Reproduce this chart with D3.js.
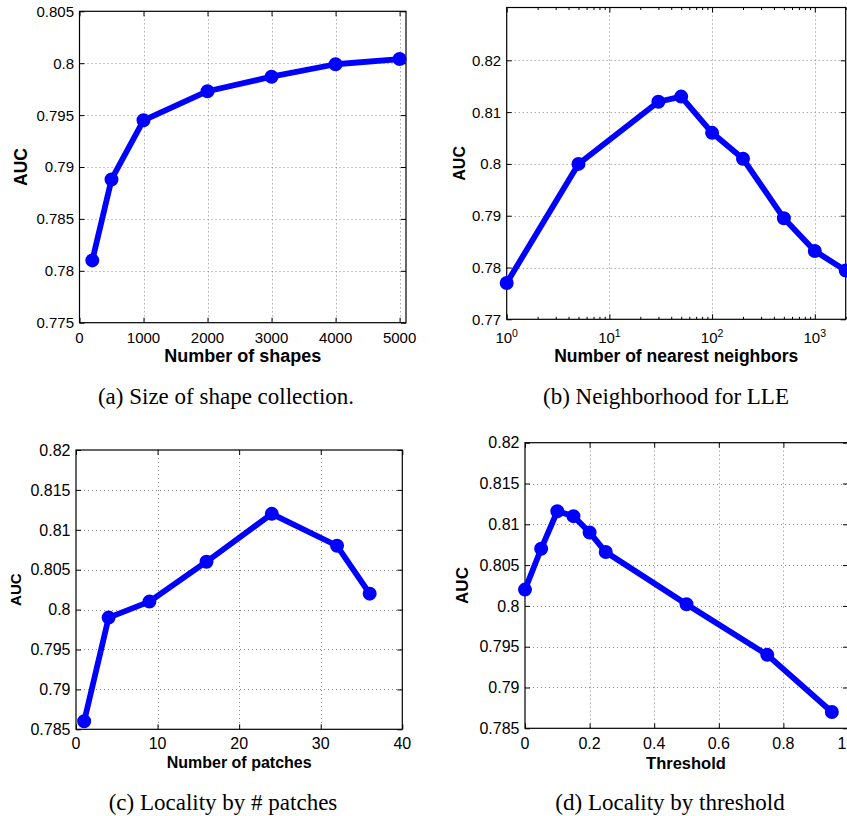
<!DOCTYPE html>
<html>
<head>
<meta charset="utf-8">
<script src="https://cdn.jsdelivr.net/npm/d3@7"></script>
<style>
  html, body { margin: 0; padding: 0; background: #fff; }
  svg { display: block; }
</style>
</head>
<body>
<svg id="chart" width="847" height="816"></svg>
<script>
// ---------------- DATA ----------------
const shapesX = [200, 500, 1000, 2000, 3000, 4000, 5000];
const shapesAUC = [0.781, 0.7888, 0.7945, 0.7973, 0.7987, 0.7999, 0.8004];
const shapesXTicks = [0, 1000, 2000, 3000, 4000, 5000];
const shapesYTicks = [0.775, 0.78, 0.785, 0.79, 0.795, 0.8, 0.805];

const neighborsX = [1, 5, 30, 50, 100, 200, 500, 1000, 2000];
const neighborsAUC = [0.777, 0.800, 0.812, 0.813, 0.806, 0.801, 0.7895, 0.7832, 0.7794];
const neighborsXTicks = [1, 10, 100, 1000];
const neighborsXMinor = [2,3,4,5,6,7,8,9,20,30,40,50,60,70,80,90,200,300,400,500,600,700,800,900,2000];
const neighborsYTicks = [0.77, 0.78, 0.79, 0.80, 0.81, 0.82];

const patchesX = [1, 4, 9, 16, 24, 32, 36];
const patchesAUC = [0.786, 0.799, 0.801, 0.806, 0.812, 0.808, 0.802];
const patchesXTicks = [0, 10, 20, 30, 40];
const patchesYTicks = [0.785, 0.79, 0.795, 0.8, 0.805, 0.81, 0.815, 0.82];

const thresholdX = [0, 0.05, 0.1, 0.15, 0.2, 0.25, 0.5, 0.75, 0.95];
const thresholdAUC = [0.802, 0.807, 0.8116, 0.811, 0.809, 0.8066, 0.8002, 0.794, 0.787];
const thresholdXTicks = [0, 0.2, 0.4, 0.6, 0.8, 1];
const thresholdYTicks = [0.785, 0.79, 0.795, 0.8, 0.805, 0.81, 0.815, 0.82];

const xLabels = ["Number of shapes", "Number of nearest neighbors", "Number of patches", "Threshold"];
const yLabel = "AUC";
const captions = ["(a) Size of shape collection.", "(b) Neighborhood for LLE", "(c) Locality by # patches", "(d) Locality by threshold"];

// ---------------- LAYOUT ----------------
const panels = [
  { x: shapesX, y: shapesAUC, xTicks: shapesXTicks, yTicks: shapesYTicks, xDomain: [0, 5100], yDomain: [0.775, 0.805],
    left: 79.5, right: 406, top: 11.3, bottom: 322.7, log: false,
    tickFont: 15, labelFont: 18, aucFont: 17.5, xTickBase: 20.5, xLabelBase: 362, aucX: 26.5,
    caption: captions[0], capX: 226, capY: 403.5, xLabel: xLabels[0] },
  { x: neighborsX, y: neighborsAUC, xTicks: neighborsXTicks, yTicks: neighborsYTicks, xDomain: [1, 2000], yDomain: [0.77, 0.8302],
    left: 506.7, right: 845.7, top: 7.5, bottom: 319.3, log: true, minor: neighborsXMinor,
    tickFont: 15, labelFont: 17.5, aucFont: 16, xTickBase: 24, xLabelBase: 361.5, aucX: 464.5,
    caption: captions[1], capX: 666, capY: 403.5, xLabel: xLabels[1] },
  { x: patchesX, y: patchesAUC, xTicks: patchesXTicks, yTicks: patchesYTicks, xDomain: [0, 40], yDomain: [0.785, 0.82],
    left: 76, right: 402.3, top: 450, bottom: 729.3, log: false,
    tickFont: 16, labelFont: 16, aucFont: 15, xTickBase: 19.5, xLabelBase: 768, aucX: 20.7,
    caption: captions[2], capX: 223, capY: 810, xLabel: xLabels[2] },
  { x: thresholdX, y: thresholdAUC, xTicks: thresholdXTicks, yTicks: thresholdYTicks, xDomain: [0, 1], yDomain: [0.785, 0.82],
    left: 525, right: 848, top: 442.7, bottom: 728.3, log: false,
    tickFont: 16, labelFont: 16.5, aucFont: 17, xTickBase: 20.5, xLabelBase: 768.5, aucX: 467.7,
    caption: captions[3], capX: 670, capY: 810, xLabel: xLabels[3] }
];

const W = 847;
const svg = d3.select("#chart");
svg.append("rect").attr("width", W).attr("height", 816).attr("fill", "#fff");

const sans = "'Liberation Sans', Arial, Helvetica, sans-serif";
const serif = "'Liberation Serif', 'Times New Roman', serif";
const fmtY = d => String(+d.toFixed(3));

panels.forEach(p => {
  const xs = (p.log ? d3.scaleLog() : d3.scaleLinear()).domain(p.xDomain).range([p.left, p.right]);
  const ys = d3.scaleLinear().domain(p.yDomain).range([p.bottom, p.top]);
  const g = svg.append("g");

  // grid
  const gridStyle = s => s.attr("stroke", "#8a8a8a").attr("stroke-width", 1).attr("stroke-dasharray", "1,3").attr("fill", "none");
  g.append("g").selectAll("line")
    .data(p.xTicks.filter(t => Math.abs(xs(t) - p.left) > 1 && Math.abs(xs(t) - p.right) > 1))
    .join("line")
    .attr("x1", d => Math.round(xs(d)) + 0.5).attr("x2", d => Math.round(xs(d)) + 0.5)
    .attr("y1", p.top).attr("y2", p.bottom).call(gridStyle);
  g.append("g").selectAll("line")
    .data(p.yTicks.filter(t => Math.abs(ys(t) - p.top) > 1 && Math.abs(ys(t) - p.bottom) > 1))
    .join("line")
    .attr("y1", d => Math.round(ys(d)) + 0.5).attr("y2", d => Math.round(ys(d)) + 0.5)
    .attr("x1", p.left).attr("x2", p.right).call(gridStyle);

  // ticks (inward, all four sides) via d3 axes
  const tickLen = 5;
  g.append("g").attr("transform", `translate(0,${p.bottom})`)
    .call(d3.axisBottom(xs).tickValues(p.xTicks).tickSizeInner(-tickLen).tickSizeOuter(0).tickFormat(""));
  g.append("g").attr("transform", `translate(0,${p.top})`)
    .call(d3.axisTop(xs).tickValues(p.xTicks).tickSizeInner(-tickLen).tickSizeOuter(0).tickFormat(""));
  g.append("g").attr("transform", `translate(${p.left},0)`)
    .call(d3.axisLeft(ys).tickValues(p.yTicks).tickSizeInner(-tickLen).tickSizeOuter(0).tickFormat(""));
  g.append("g").attr("transform", `translate(${p.right},0)`)
    .call(d3.axisRight(ys).tickValues(p.yTicks).tickSizeInner(-tickLen).tickSizeOuter(0).tickFormat(""));
  if (p.log) {
    g.append("g").attr("transform", `translate(0,${p.bottom})`)
      .call(d3.axisBottom(xs).tickValues(p.minor).tickSizeInner(-2.5).tickSizeOuter(0).tickFormat(""));
    g.append("g").attr("transform", `translate(0,${p.top})`)
      .call(d3.axisTop(xs).tickValues(p.minor).tickSizeInner(-2.5).tickSizeOuter(0).tickFormat(""));
  }
  g.selectAll(".domain").remove();
  g.selectAll(".tick line").attr("stroke", "#000").attr("stroke-width", 1);

  // frame
  g.append("rect").attr("x", p.left).attr("y", p.top)
    .attr("width", p.right - p.left).attr("height", p.bottom - p.top)
    .attr("fill", "none").attr("stroke", "#000").attr("stroke-width", 1.2);

  // x tick labels
  const xl = g.append("g").attr("font-family", sans).attr("font-size", p.tickFont).attr("fill", "#000");
  p.xTicks.forEach(t => {
    const px = xs(t);
    const edge = px > W - 6;
    const tx = xl.append("text").attr("x", edge ? W - 0.5 : px).attr("y", p.bottom + p.xTickBase)
      .attr("text-anchor", edge ? "end" : "middle");
    if (p.log) {
      tx.append("tspan").text("10");
      tx.append("tspan").attr("font-size", p.tickFont * 0.7).attr("dy", -6).text(String(Math.round(Math.log10(t))));
    } else {
      tx.text(String(t));
    }
  });
  // y tick labels
  const yl = g.append("g").attr("font-family", sans).attr("font-size", p.tickFont).attr("fill", "#000").attr("text-anchor", "end");
  p.yTicks.forEach(t => {
    yl.append("text").attr("x", p.left - 5.5).attr("y", ys(t)).attr("dy", "0.36em").text(fmtY(t));
  });

  // axis labels
  g.append("text").attr("x", (p.left + Math.min(p.right, W)) / 2).attr("y", p.xLabelBase)
    .attr("font-family", sans).attr("font-weight", "bold").attr("font-size", p.labelFont)
    .attr("text-anchor", "middle").text(p.xLabel);
  g.append("text").attr("transform", `translate(${p.aucX},${(p.top + p.bottom) / 2}) rotate(-90)`)
    .attr("font-family", sans).attr("font-weight", "bold").attr("font-size", p.aucFont)
    .attr("text-anchor", "middle").text(yLabel);

  // series line
  const pts = p.x.map((v, i) => [v, p.y[i]]);
  g.append("path").datum(pts)
    .attr("d", d3.line().x(d => xs(d[0])).y(d => ys(d[1])))
    .attr("fill", "none").attr("stroke", "#0000ff").attr("stroke-width", 5.8)
    .attr("stroke-linejoin", "round").attr("stroke-linecap", "round");
  g.append("g").selectAll("circle").data(pts).join("circle")
    .attr("cx", d => xs(d[0])).attr("cy", d => ys(d[1])).attr("r", 4.5)
    .attr("fill", "#0000ff").attr("stroke", "#0000ff").attr("stroke-width", 5);

  // caption
  svg.append("text").attr("x", p.capX).attr("y", p.capY)
    .attr("font-family", serif).attr("font-size", 23).attr("fill", "#000")
    .attr("text-anchor", "middle").text(p.caption);
});
</script>
</body>
</html>
